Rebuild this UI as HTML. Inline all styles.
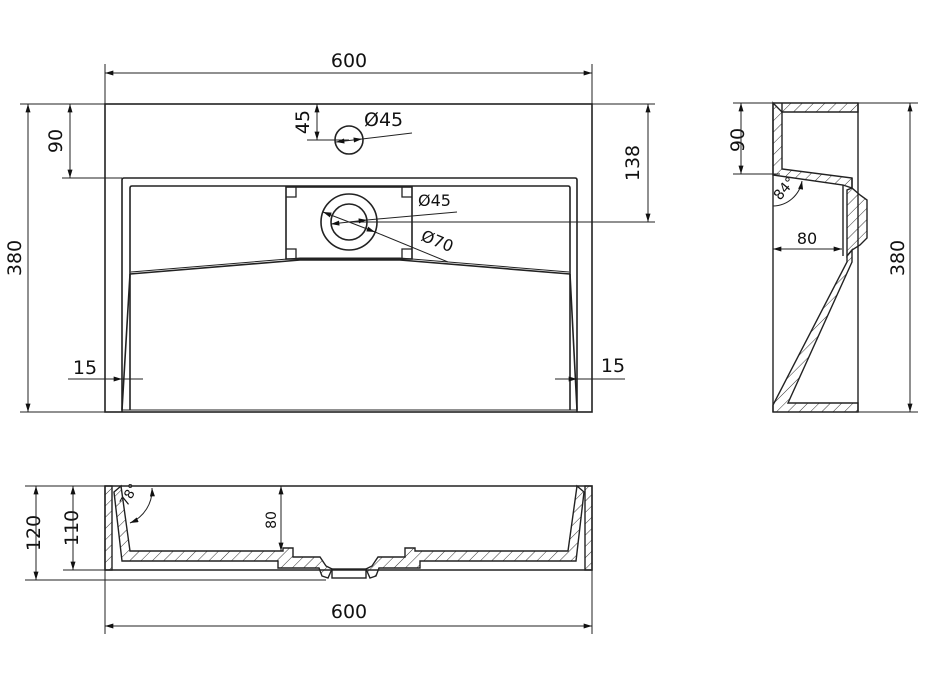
<!DOCTYPE html>
<html><head><meta charset="utf-8"><style>
html,body{margin:0;padding:0;background:#fff;}
svg{display:block;}
text{font-family:"DejaVu Sans","Liberation Sans",sans-serif;fill:#111;}
</style></head><body>
<svg width="928" height="686" viewBox="0 0 928 686" xmlns="http://www.w3.org/2000/svg">
<defs>
<marker id="a" viewBox="0 0 10 6" refX="10" refY="3" markerWidth="9" markerHeight="5" orient="auto-start-reverse" markerUnits="userSpaceOnUse"><path d="M0,0 L10,3 L0,6 z" fill="#111"/></marker>
<pattern id="h" width="8" height="8" patternUnits="userSpaceOnUse" patternTransform="rotate(45)"><line x1="0" y1="0" x2="0" y2="8" stroke="#333" stroke-width="1"/></pattern>
</defs>
<g fill="none" stroke="#222" stroke-width="1.6">
<rect x="105" y="104" width="487" height="308"/>
<path d="M122,412 V180 Q122,178 124,178 H575 Q577,178 577,180 V412"/>
<path d="M130,410 V188 Q130,186 132,186 H568 Q570,186 570,188 V410"/>
<rect x="286" y="187" width="126" height="72"/>
<path d="M286,197 H296 V187 M412,197 H402 V187 M286,249 H296 V259 M412,249 H402 V259" stroke-width="1.3"/>
<circle cx="349" cy="222" r="28"/>
<circle cx="349" cy="222" r="18"/>
<circle cx="349" cy="140" r="14"/>
<path d="M130,274 L300,260 H400 L570,274"/>
<path d="M131,272 L300,258 H400 L569,272" stroke-width="1"/>
<path d="M130,274 L122,410 M570,274 L577,410"/>
<line x1="122" y1="410" x2="577" y2="410" stroke-width="1"/>
</g>
<g fill="none" stroke="#222" stroke-width="1">
<line x1="105" y1="64" x2="105" y2="104"/><line x1="592" y1="64" x2="592" y2="104"/>
<line x1="105" y1="73" x2="592" y2="73" marker-start="url(#a)" marker-end="url(#a)"/>
<line x1="20" y1="104" x2="105" y2="104"/><line x1="20" y1="412" x2="105" y2="412"/>
<line x1="28" y1="104" x2="28" y2="412" marker-start="url(#a)" marker-end="url(#a)"/>
<line x1="62" y1="178" x2="122" y2="178"/>
<line x1="70" y1="104" x2="70" y2="178" marker-start="url(#a)" marker-end="url(#a)"/>
<line x1="592" y1="104" x2="655" y2="104"/><line x1="349" y1="222" x2="655" y2="222"/>
<line x1="648" y1="104" x2="648" y2="222" marker-start="url(#a)" marker-end="url(#a)"/>
<line x1="307" y1="140" x2="349" y2="140"/>
<line x1="317" y1="104" x2="317" y2="140" marker-start="url(#a)" marker-end="url(#a)"/>
<line x1="336" y1="142" x2="362" y2="139" marker-start="url(#a)" marker-end="url(#a)"/>
<line x1="362" y1="139" x2="412" y2="133"/>
<line x1="331" y1="224" x2="367" y2="220" marker-start="url(#a)" marker-end="url(#a)"/>
<line x1="367" y1="220" x2="457" y2="212"/>
<line x1="323" y1="212" x2="375" y2="232" marker-start="url(#a)" marker-end="url(#a)"/>
<line x1="375" y1="232" x2="448" y2="262"/>
<line x1="68" y1="379" x2="122" y2="379" marker-end="url(#a)"/>
<line x1="122" y1="379" x2="143" y2="379"/>
<line x1="577" y1="379" x2="625" y2="379"/>
<line x1="555" y1="379" x2="577" y2="379" marker-end="url(#a)"/>
</g>
<g font-size="19">
<text x="349" y="67" text-anchor="middle">600</text>
<text x="349" y="618" text-anchor="middle">600</text>
<text transform="translate(21,258) rotate(-90)" text-anchor="middle">380</text>
<text transform="translate(62,141) rotate(-90)" text-anchor="middle">90</text>
<text transform="translate(639,163) rotate(-90)" text-anchor="middle">138</text>
<text transform="translate(309,122) rotate(-90)" text-anchor="middle">45</text>
<text x="364" y="126">Ø45</text>
<text x="85" y="374" text-anchor="middle">15</text>
<text x="613" y="372" text-anchor="middle">15</text>
<text transform="translate(744,140) rotate(-90)" text-anchor="middle">90</text>
<text transform="translate(904,258) rotate(-90)" text-anchor="middle">380</text>
<text transform="translate(40,533) rotate(-90)" text-anchor="middle">120</text>
<text transform="translate(78,528) rotate(-90)" text-anchor="middle">110</text>
</g>
<g font-size="16">
<text x="418" y="206">Ø45</text>
<text transform="translate(420,240) rotate(22)">Ø70</text>
<text x="807" y="244" text-anchor="middle">80</text>
<text transform="translate(276,520) rotate(-90)" text-anchor="middle" font-size="14">80</text>
<text transform="translate(780,201) rotate(-50)" font-size="14">84°</text>
<text transform="translate(127,507) rotate(-60)" font-size="13">78°</text>
</g>
<!-- side view -->
<g stroke="#222" stroke-width="1.4">
<path d="M773,103 H858 V112 H782 V103 Z" fill="url(#h)"/>
<path d="M773,103 V175 L843,185 L852,188 V178 L782,169 V112 L773,103 Z" fill="url(#h)"/>
<path d="M852,178 V188 L860,195 L867,200 V238 L860,245 L852,250 L847,256 V190 L852,188 Z" fill="url(#h)"/>
<path d="M852,250 V262 L788,403 H858 V412 H773 V405 L847,262 V256 Z" fill="url(#h)"/>
<path d="M843,185 V256" fill="none"/>
<line x1="858" y1="103" x2="858" y2="412" fill="none"/>
<line x1="773" y1="103" x2="773" y2="412" fill="none"/>
</g>
<g fill="none" stroke="#222" stroke-width="1">
<line x1="858" y1="103" x2="918" y2="103"/><line x1="858" y1="412" x2="918" y2="412"/>
<line x1="910" y1="103" x2="910" y2="412" marker-start="url(#a)" marker-end="url(#a)"/>
<line x1="733" y1="103" x2="773" y2="103"/><line x1="733" y1="174" x2="780" y2="174"/>
<line x1="741" y1="103" x2="741" y2="174" marker-start="url(#a)" marker-end="url(#a)"/>
<line x1="773" y1="249" x2="842" y2="249" marker-start="url(#a)" marker-end="url(#a)"/>
<path d="M773,206 A30,30 0 0 0 802,181" marker-end="url(#a)"/>
</g>
<!-- section view -->
<g stroke="#222" stroke-width="1.4">
<rect x="105" y="486" width="7" height="84" fill="url(#h)"/>
<rect x="585" y="486" width="7" height="84" fill="url(#h)"/>
<path d="M114,492 L121,486 L130,551 H283 V548 H293 V557 H320 L326,566 L332,569 L328,578 L322,576 L319,568 H278 V561 H122 Z" fill="url(#h)"/>
<path d="M584,492 L577,486 L568,551 H415 V548 H405 V557 H378 L372,566 L366,569 L370,578 L376,576 L379,568 H420 V561 H576 Z" fill="url(#h)"/>
<rect x="332" y="569" width="34" height="9" fill="#fff"/>
<path d="M105,486 H592 V570 H105 Z" fill="none"/>
</g>
<g fill="none" stroke="#222" stroke-width="1">
<line x1="25" y1="486" x2="105" y2="486"/><line x1="25" y1="580" x2="326" y2="580"/>
<line x1="63" y1="570" x2="105" y2="570"/>
<line x1="36" y1="486" x2="36" y2="580" marker-start="url(#a)" marker-end="url(#a)"/>
<line x1="73" y1="486" x2="73" y2="570" marker-start="url(#a)" marker-end="url(#a)"/>
<line x1="281" y1="486" x2="281" y2="551" marker-start="url(#a)" marker-end="url(#a)"/>
<line x1="105" y1="570" x2="105" y2="634"/><line x1="592" y1="570" x2="592" y2="634"/>
<line x1="105" y1="626" x2="592" y2="626" marker-start="url(#a)" marker-end="url(#a)"/>
<path d="M130,523 A36,36 0 0 0 152,488" marker-start="url(#a)" marker-end="url(#a)"/>
</g>
</svg>
</body></html>
